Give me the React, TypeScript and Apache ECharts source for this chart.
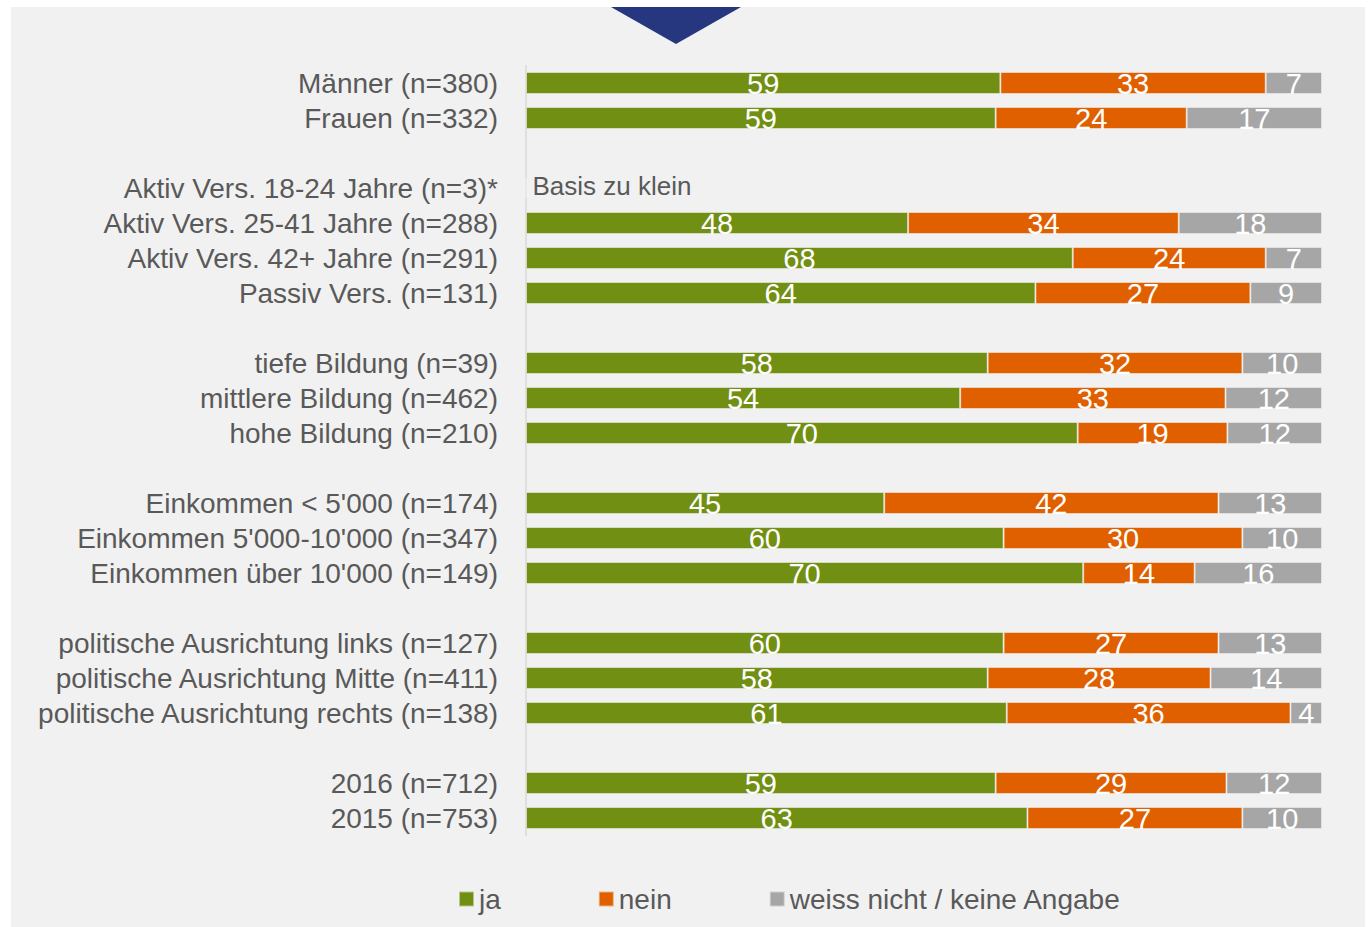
import React, { useEffect, useRef } from "react";
import * as echarts from "echarts";

const categories = [
  "Männer (n=380)",
  "Frauen (n=332)",
  "_1",
  "Aktiv Vers. 18-24 Jahre (n=3)*",
  "Aktiv Vers. 25-41 Jahre (n=288)",
  "Aktiv Vers. 42+ Jahre (n=291)",
  "Passiv Vers. (n=131)",
  "_2",
  "tiefe Bildung (n=39)",
  "mittlere Bildung (n=462)",
  "hohe Bildung (n=210)",
  "_3",
  "Einkommen < 5'000 (n=174)",
  "Einkommen 5'000-10'000 (n=347)",
  "Einkommen über 10'000 (n=149)",
  "_4",
  "politische Ausrichtung links (n=127)",
  "politische Ausrichtung Mitte (n=411)",
  "politische Ausrichtung rechts (n=138)",
  "_5",
  "2016 (n=712)",
  "2015 (n=753)",
];

const ja = [59, 59, null, null, 48, 68, 64, null, 58, 54, 70, null, 45, 60, 70, null, 60, 58, 61, null, 59, 63];
const nein = [33, 24, null, null, 34, 24, 27, null, 32, 33, 19, null, 42, 30, 14, null, 27, 28, 36, null, 29, 27];
const weissNicht = [7, 17, null, null, 18, 7, 9, null, 10, 12, 12, null, 13, 10, 16, null, 13, 14, 4, null, 12, 10];

const smallBaseIndex = 3;
const smallBaseText = "Basis zu klein";

const seriesNames = ["ja", "nein", "weiss nicht / keine Angabe"];
const seriesColors = ["#718f13", "#e06000", "#a6a6a6"];

const FONT = "'Liberation Sans', Arial, sans-serif";
const TEXT = "#595959";

export default function App() {
  const ref = useRef<HTMLDivElement>(null);

  useEffect(() => {
    if (!ref.current) return;
    const chart = echarts.init(ref.current, undefined, { renderer: "svg" });
    const all = [ja, nein, weissNicht];
    const sums = categories.map((_, i) =>
      all.reduce((s, arr) => s + (arr[i] == null ? 0 : (arr[i] as number)), 0)
    );

    const series = all.map((arr, si) => ({
      name: seriesNames[si],
      type: "bar",
      stack: "total",
      barWidth: 22,
      itemStyle: {
        color: seriesColors[si],
        borderColor: "rgba(242,242,242,0.55)",
        borderWidth: 1,
      },
      label: {
        show: true,
        position: "inside",
        color: "#ffffff",
        fontSize: 29,
        fontFamily: FONT,
        offset: [0, 1],
        formatter: (p: any) => (arr[p.dataIndex] == null ? "" : String(arr[p.dataIndex])),
      },
      data: arr.map((v, i) => {
        if (si === 0 && i === smallBaseIndex) {
          return {
            value: 0,
            label: {
              show: true,
              position: "right",
              distance: 6,
              offset: [0, -2],
              color: TEXT,
              fontSize: 26,
              fontFamily: FONT,
              formatter: smallBaseText,
            },
          };
        }
        return v == null ? null : (v / sums[i]) * 100;
      }),
    }));

    chart.setOption({
      animation: false,
      backgroundColor: "#f1f1f1",
      textStyle: { fontFamily: FONT },
      grid: { left: 515, width: 796, top: 58.5, height: 770 },
      xAxis: {
        type: "value",
        min: 0,
        max: 100,
        show: false,
      },
      yAxis: {
        type: "category",
        inverse: true,
        data: categories,
        axisLine: { show: true, lineStyle: { color: "#d9d9d9", width: 1.5 } },
        axisTick: { show: false },
        splitLine: { show: false },
        axisLabel: {
          interval: 0,
          color: TEXT,
          fontSize: 28,
          fontFamily: FONT,
          margin: 28,
          formatter: (v: string) => (v.startsWith("_") ? "" : v),
        },
      },
      legend: {
        left: 442,
        top: 873,
        itemWidth: 15,
        itemHeight: 15,
        itemGap: 97,
        icon: "rect",
        textStyle: { color: TEXT, fontSize: 28, fontFamily: FONT },
        data: seriesNames,
      },
      graphic: [
        {
          type: "polygon",
          shape: { points: [[600, 0], [730, 0], [665, 37]] },
          style: { fill: "#27377f" },
        },
      ],
      series,
    });
    return () => chart.dispose();
  }, []);

  return (
    <div
      ref={ref}
      style={{ position: "absolute", left: 11, top: 7, width: 1354, height: 920 }}
    />
  );
}
